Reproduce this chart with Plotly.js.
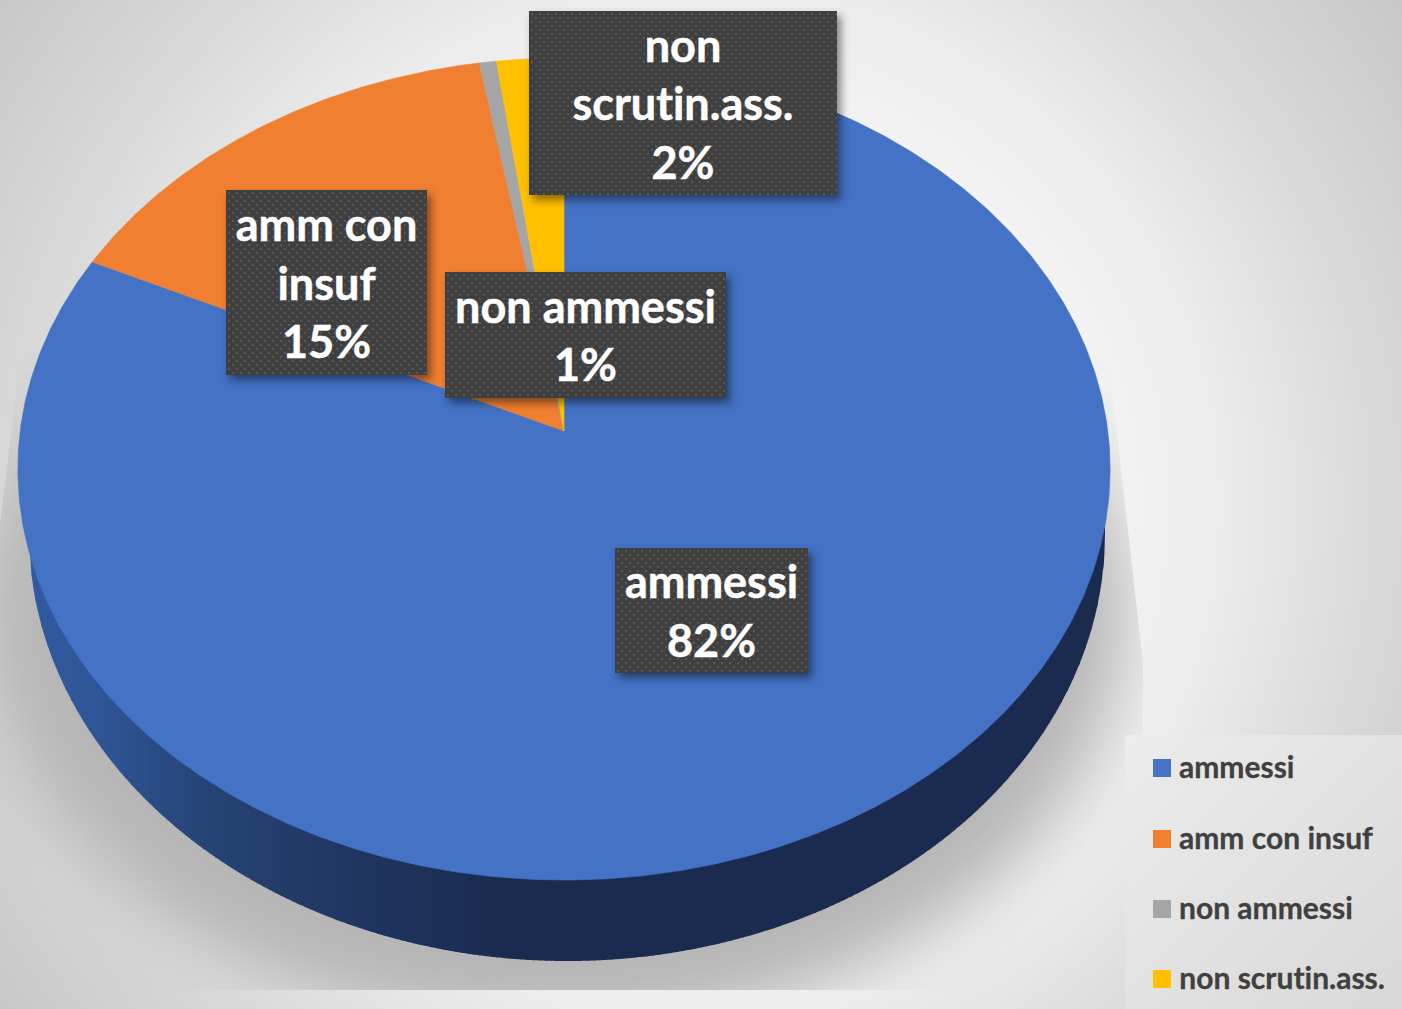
<!DOCTYPE html>
<html>
<head>
<meta charset="utf-8">
<script src="https://cdn.plot.ly/plotly-3.0.1.min.js"></script>
<style>
html,body{margin:0;padding:0;width:1402px;height:1009px;overflow:hidden;background:#eee}
#bg{position:absolute;left:0;top:0;width:1402px;height:1009px;
  background:radial-gradient(circle 860px at 700px 504px,#ffffff 0%,#ffffff 23%,#fafafa 34%,#ececec 60%,#d6d6d6 82%,#c8c8c8 100%)}
#shadowClip{position:absolute;left:0;top:0;width:1402px;height:1009px;
  clip-path:polygon(21px 350px,0 525px,0 990px,1143px 990px,1143px 663px,1107px 345px)}
#shadow{position:absolute;left:-15px;top:190px;width:1140px;height:840px;border-radius:50%;background:#b6b6b6;filter:blur(32px)}
#panel{position:absolute;left:1125px;top:735px;width:277px;height:274px;background:linear-gradient(135deg,#ececec,#d8d8d8)}
#chart{position:absolute;left:0;top:0;width:1402px;height:1009px}
#chart text{font-variant-ligatures:none;font-feature-settings:"liga" 0}
</style>
</head>
<body>
<div id="bg"></div>
<div id="shadowClip"><div id="shadow"></div></div>
<div id="panel"></div>
<div id="chart"></div>
<script>
// ---- data ----
var categories = ['ammessi', 'amm con insuf', 'non ammessi', 'non scrutin.ass.'];
var values = [82.1, 15.18, 0.55, 2.17];
var colors = ['#4472C4', '#F07F31', '#A5A5A5', '#FFC000'];
var labelLines = [['ammessi'], ['amm con', 'insuf'], ['non ammessi'], ['non', 'scrutin.ass.']];

// ---- view of the tilted disc, in axis units ----
var apexX = 564, apexY = 431, halfW = 543.8, halfH = 407.5, tilt = 0.0925;
var baseCx = 567, baseCy = 534, baseA = 538, baseB = 427;
var labelBoxes = [
  {x: 711.5, y: 610.5, w: 193, h: 125},
  {x: 326.5, y: 282.5, w: 201, h: 185},
  {x: 585.5, y: 335, w: 281, h: 126},
  {x: 683, y: 103, w: 308, h: 184}
];
var legendRows = [768, 839, 909, 979];

function rim(frac) {
  var t = frac * 2 * Math.PI, u = Math.sin(t), v = Math.cos(t), w = 1 + tilt * v;
  return [apexX + halfW * u / w, apexY - halfH * v / w];
}

var total = values.reduce(function (a, b) { return a + b; }, 0);
var traces = [], start = 0;
values.forEach(function (val, i) {
  var end = start + val / total, xs = [apexX], ys = [apexY];
  var n = Math.max(4, Math.ceil((end - start) * 720));
  for (var k = 0; k <= n; k++) {
    var p = rim(start + (end - start) * k / n);
    xs.push(p[0]); ys.push(p[1]);
  }
  xs.push(apexX); ys.push(apexY);
  traces.push({type: 'scatter', mode: 'lines', x: xs, y: ys, fill: 'toself', fillcolor: colors[i],
    line: {color: colors[i], width: 0.6}, name: categories[i], showlegend: false, hoverinfo: 'skip'});
  start = end;
});
traces.push({type: 'scatter', mode: 'markers', x: categories.map(function () { return 1162; }), y: legendRows,
  marker: {symbol: 'square', size: 18, color: colors, line: {width: 0}}, showlegend: false, hoverinfo: 'skip'});

// side wall: vertical strips shaded from mid blue to navy
function wallColor(x) {
  var stops = [[24, [49, 91, 160]], [100, [47, 85, 151]], [200, [38, 68, 118]], [350, [31, 54, 97]], [500, [26, 43, 79]], [1200, [26, 43, 79]]];
  for (var i = 1; i < stops.length; i++) {
    if (x <= stops[i][0]) {
      var f = (x - stops[i - 1][0]) / (stops[i][0] - stops[i - 1][0]);
      var c = stops[i - 1][1].map(function (a, j) { return Math.round(a + (stops[i][1][j] - a) * f); });
      return 'rgb(' + c.join(',') + ')';
    }
  }
  return 'rgb(26,43,79)';
}
var shapes = [];
for (var sx = baseCx - baseA; sx < baseCx + baseA; sx += 6) {
  var path = 'M' + sx + ',500', pts = [];
  var xEnd = Math.min(sx + 7, baseCx + baseA);
  for (var q = 0; q <= 3; q++) {
    var px = sx + (xEnd - sx) * q / 3, r = (px - baseCx) / baseA;
    pts.push([px, baseCy + baseB * Math.sqrt(Math.max(0, 1 - r * r))]);
  }
  path += ' L' + pts.map(function (p) { return p[0].toFixed(2) + ',' + p[1].toFixed(2); }).join(' L') + ' L' + xEnd + ',500 Z';
  shapes.push({type: 'path', path: path, xref: 'x', yref: 'y', layer: 'below', fillcolor: wallColor(sx + 3), line: {width: 0}});
}

var labelFont = {family: 'Lato, Carlito, sans-serif', size: 45, color: '#ffffff'};
var annotations = values.map(function (val, i) {
  var b = labelBoxes[i], pct = Math.round(val / total * 100) + '%';
  return {xref: 'x', yref: 'y', x: b.x, y: b.y, xanchor: 'center', yanchor: 'middle', width: b.w, height: b.h,
    text: '<b>' + labelLines[i].concat([pct]).join('<br>') + '</b>', showarrow: false, align: 'center', valign: 'middle',
    bgcolor: '#404040', borderpad: 0, borderwidth: 0, font: labelFont};
});
categories.forEach(function (c, i) {
  annotations.push({xref: 'x', yref: 'y', x: 1177, y: legendRows[i] - 2, xanchor: 'left', yanchor: 'middle',
    text: '<b>' + c + '</b>', showarrow: false, font: {family: 'Lato, Carlito, sans-serif', size: 30, color: '#404040'}});
});

var layout = {
  width: 1402, height: 1009, margin: {l: 0, r: 0, t: 0, b: 0},
  paper_bgcolor: 'rgba(0,0,0,0)', plot_bgcolor: 'rgba(0,0,0,0)',
  xaxis: {range: [0, 1402], visible: false, fixedrange: true},
  yaxis: {range: [1009, 0], visible: false, fixedrange: true},
  showlegend: false, hovermode: false, shapes: shapes, annotations: annotations
};
Plotly.newPlot('chart', traces, layout, {displayModeBar: false, staticPlot: true}).then(function () {
  var NS = 'http://www.w3.org/2000/svg', svg = document.querySelector('#chart svg.main-svg');
  var defs = document.createElementNS(NS, 'defs');
  defs.innerHTML = '<pattern id="dots" x="1" y="1" width="8" height="8" patternUnits="userSpaceOnUse">' +
    '<rect width="8" height="8" fill="#3f3f3f"/>' +
    '<rect x="1" y="1" width="2" height="2" fill="#585858"/>' +
    '<rect x="5" y="5" width="2" height="2" fill="#585858"/></pattern>';
  svg.insertBefore(defs, svg.firstChild);
  document.querySelectorAll('#chart .annotation').forEach(function (g, i) {
    var t = g.querySelector('text');
    if (i >= values.length) {
      t.style.stroke = '#404040'; t.style.strokeWidth = '0.3px';
      return;
    }
    var r = g.querySelector('rect.bg');
    r.style.fill = 'url(#dots)';
    r.style.filter = 'drop-shadow(4px 5px 4px rgba(0,0,0,0.45))';
    t.style.stroke = '#ffffff'; t.style.strokeWidth = '0.5px';
  });
});
</script>
</body>
</html>
